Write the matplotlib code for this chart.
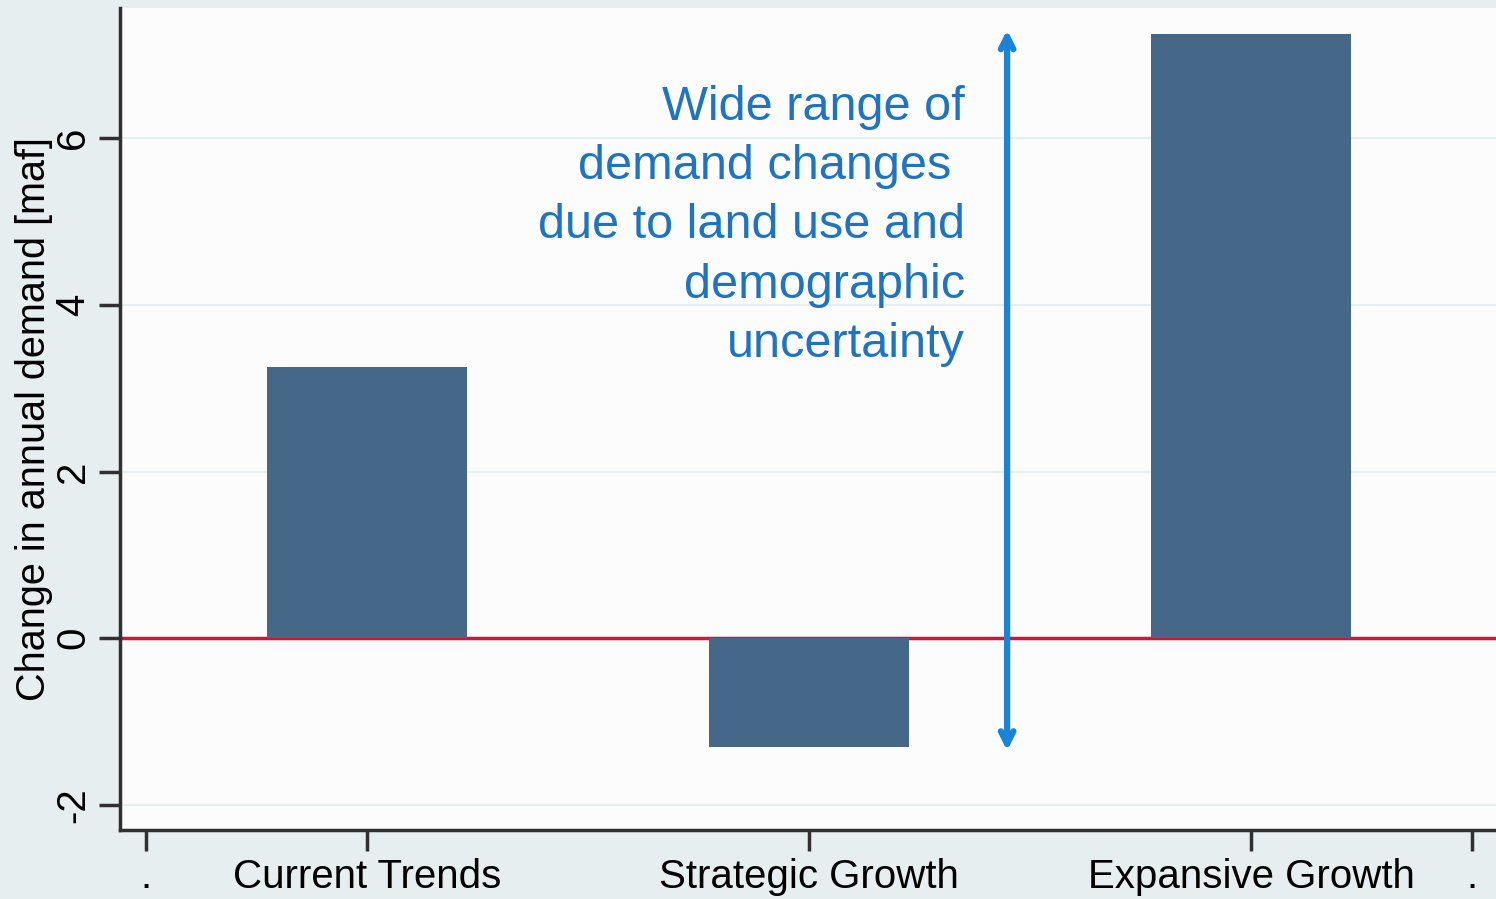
import numpy as np
import matplotlib.pyplot as plt

# --- data ---
categories = ["Current Trends", "Strategic Growth", "Expansive Growth"]
demand_change = [3.25, -1.3, 7.25]   # change in annual demand [maf]
positions = [1, 2, 3]
tick_pos = [0.5, 1, 2, 3, 3.5]
tick_labels = [".", "Current Trends", "Strategic Growth", "Expansive Growth", "."]
y_ticks = [-2, 0, 2, 4, 6]

note_lines = ["Wide range of", "demand changes ", "due to land use and",
              "demographic", "uncertainty"]

plt.rcParams["font.family"] = ["Liberation Sans", "DejaVu Sans"]

fig = plt.figure(figsize=(14.96, 8.99), dpi=100)
fig.patch.set_facecolor("#e7eef0")
ax = fig.add_axes([0.0802, 0.0768, 0.9198, 0.9142])
ax.set_facecolor("#fcfcfc")

# grid lines
for yt in y_ticks:
    ax.axhline(yt, color="#e6eeef", lw=1.5, zorder=0)

ax.bar(positions, demand_change, width=0.4525, color="#456889", zorder=2)
ax.axhline(0, color="#d2143c", lw=2.5, zorder=1)

# arrow spanning the range of demand changes
arrow_x = 2.448
ax.annotate("", xy=(arrow_x, max(demand_change) + 0.05),
            xytext=(arrow_x, min(demand_change) - 0.05),
            arrowprops=dict(arrowstyle="<->, head_length=0.9, head_width=0.45",
                            color="#1a84d8", lw=4.5, shrinkA=0, shrinkB=0),
            zorder=3)

# annotation text
ax.text(2.353, 6.64, "\n".join(note_lines), ha="right", va="top",
        multialignment="right", fontsize=35, color="#1f74c2", linespacing=1.41)

ax.set_xlim(0.441, 3.554)
ax.set_ylim(-2.3, 7.56)
ax.set_xticks(tick_pos)
ax.set_xticklabels(tick_labels, fontsize=29)
ax.set_yticks(y_ticks)
ax.set_yticklabels([str(t) for t in y_ticks], rotation=90, va="center", fontsize=29)
ax.set_ylabel("Change in annual demand [maf]", fontsize=28.5, labelpad=1)

for side in ["top", "right"]:
    ax.spines[side].set_visible(False)
for side in ["left", "bottom"]:
    ax.spines[side].set_color("#303030")
    ax.spines[side].set_linewidth(2.5)
ax.tick_params(axis="both", length=15, width=2.5, color="#303030", pad=5)

plt.savefig("out.png", dpi=100, facecolor=fig.get_facecolor())
